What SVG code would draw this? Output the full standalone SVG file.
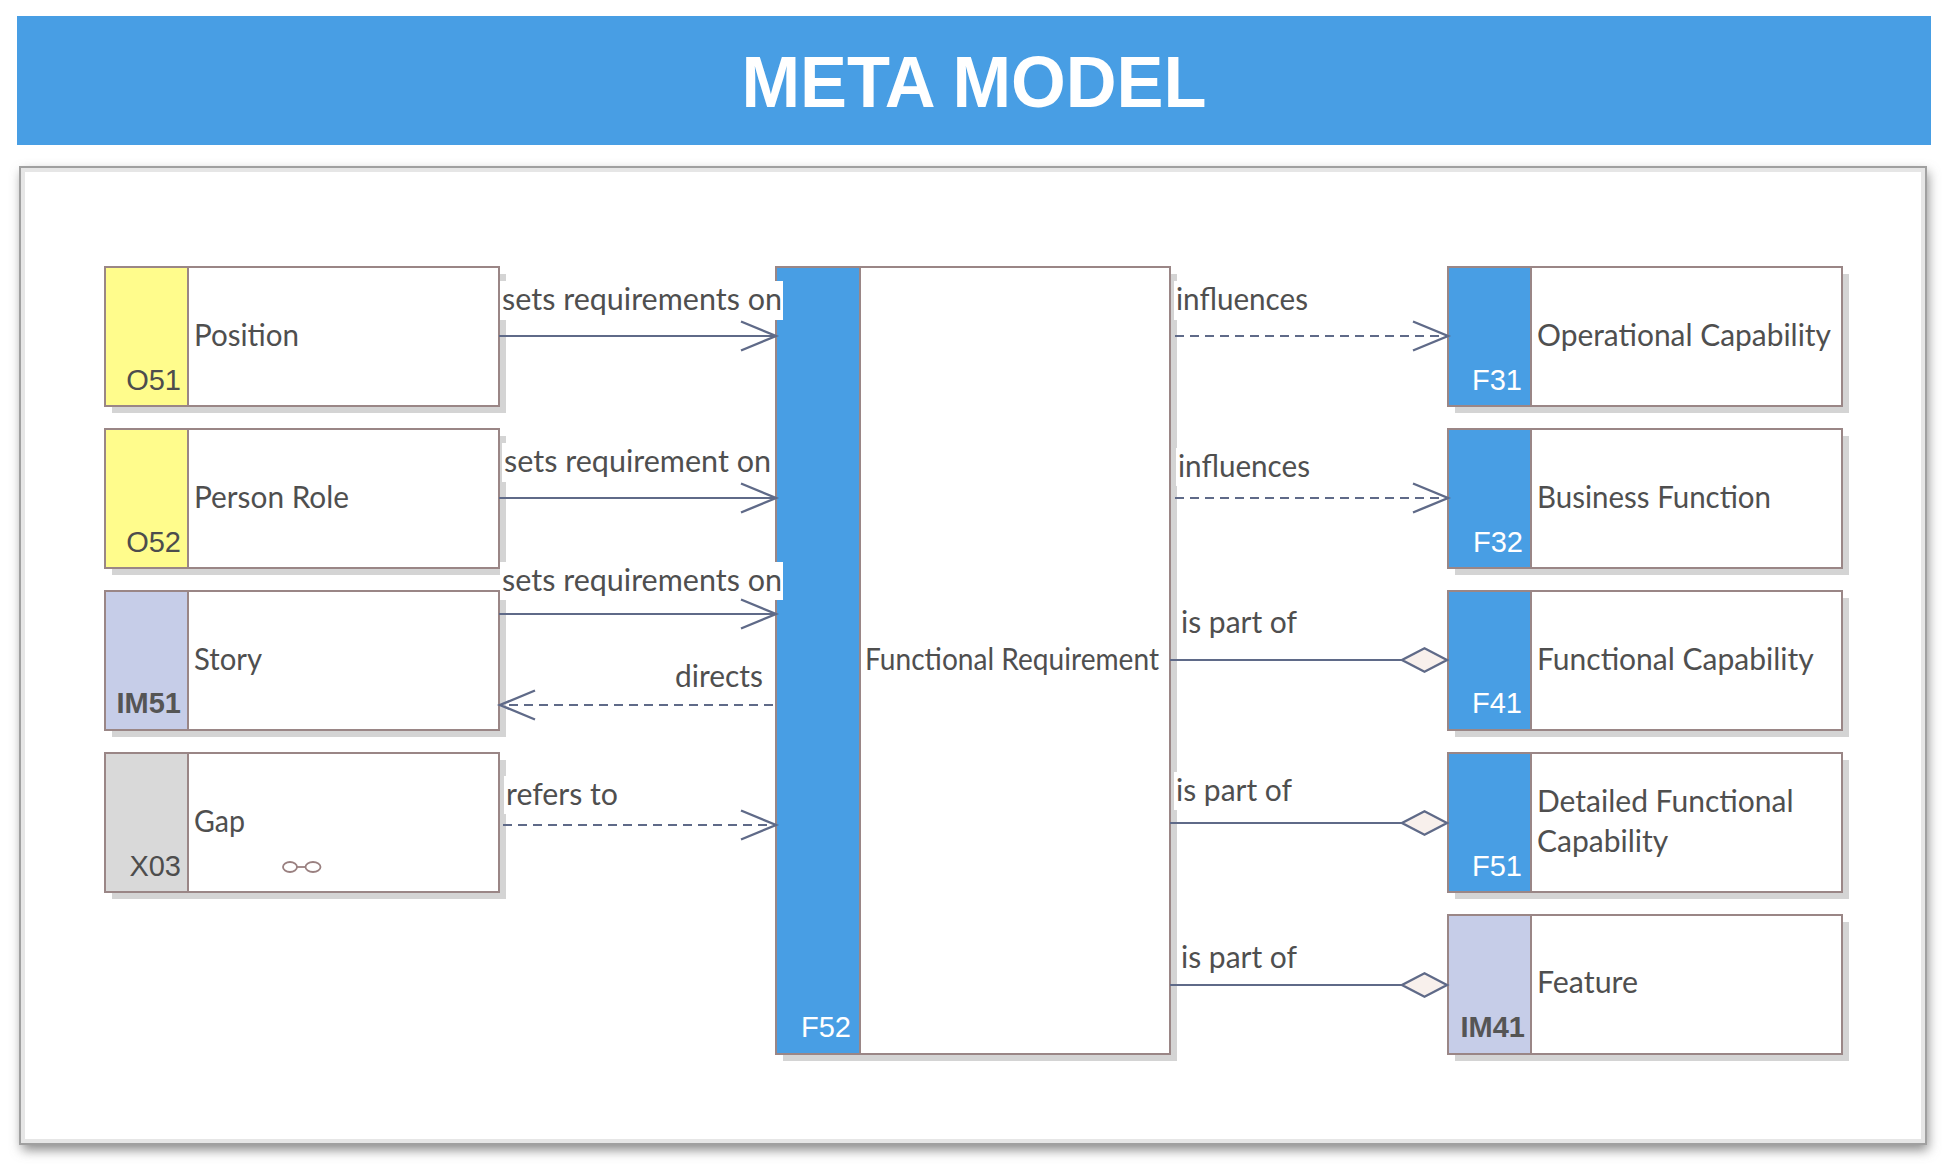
<svg xmlns="http://www.w3.org/2000/svg" width="1946" height="1164" viewBox="0 0 1946 1164">
<style>
.shadow{fill:#d4d4d4}
.box{fill:#ffffff;stroke:#9a8686;stroke-width:2}
.tab{stroke:none}
.tline{stroke:#9a8686;stroke-width:2}
.name{font-family:Lato,"Open Sans",sans-serif;font-size:30px;fill:#4f4f4f}
.code{font-family:"Liberation Sans",Arial,sans-serif;font-size:29px;text-anchor:end}
.lbl{font-family:Lato,"Open Sans",sans-serif;font-size:30px;fill:#4f4f4f}
.lbg{fill:#ffffff}
.conn{fill:none;stroke:#5f6a88;stroke-width:2.2}
.dash{stroke-dasharray:9 6}
</style>
<defs>
<filter id="pshadow" x="-5%" y="-5%" width="110%" height="112%">
<feGaussianBlur stdDeviation="6"/>
</filter>
<marker id="open" viewBox="-40 -20 44 40" markerWidth="44" markerHeight="40" refX="0" refY="0" orient="auto" markerUnits="userSpaceOnUse">
<path d="M -35 -14.5 L 0 0 L -35 14.5" fill="none" stroke="#5f6a88" stroke-width="2.4"/>
</marker>
<marker id="diamond" viewBox="-50 -16 54 32" markerWidth="54" markerHeight="32" refX="0" refY="0" orient="auto" markerUnits="userSpaceOnUse">
<path d="M 0 0 L -22.5 -11.7 L -45 0 L -22.5 11.7 Z" fill="#f8f0ec" stroke="#5f6a88" stroke-width="2.4"/>
</marker>
</defs>

<rect width="1946" height="1164" fill="#ffffff"/>

<g id="title">
<rect x="17" y="16" width="1914" height="129" fill="#489ee4"/>
<text x="974" y="107" text-anchor="middle" font-family="'Liberation Sans',Arial,sans-serif" font-weight="bold" font-size="73" fill="#ffffff" textLength="465" lengthAdjust="spacingAndGlyphs">META MODEL</text>
</g>

<g id="panel">
<rect x="22" y="172" width="1906" height="978" fill="#8a8a8a" filter="url(#pshadow)"/>
<rect x="20" y="167" width="1906" height="977" fill="#ffffff" stroke="#a0a0a0" stroke-width="2"/>
<rect x="23" y="170" width="1900" height="971" fill="none" stroke="#e6e6e6" stroke-width="4"/>
</g>

<g id="node-O51">
<rect class="shadow" x="112" y="274" width="394" height="139"/>
<rect class="box" x="105" y="267" width="394" height="139"/>
<rect class="tab" x="106" y="268" width="82" height="137" fill="#fffc8c"/>
<line class="tline" x1="188" y1="267" x2="188" y2="406"/>
<text class="name" x="194" y="346" textLength="105" lengthAdjust="spacingAndGlyphs">Position</text>
<text class="code" x="181" y="390" fill="#4d4d4d">O51</text>
</g>

<g id="node-O52">
<rect class="shadow" x="112" y="436" width="394" height="139"/>
<rect class="box" x="105" y="429" width="394" height="139"/>
<rect class="tab" x="106" y="430" width="82" height="137" fill="#fffc8c"/>
<line class="tline" x1="188" y1="429" x2="188" y2="568"/>
<text class="name" x="194" y="508" textLength="155" lengthAdjust="spacingAndGlyphs">Person Role</text>
<text class="code" x="181" y="552" fill="#4d4d4d">O52</text>
</g>

<g id="node-IM51">
<rect class="shadow" x="112" y="598" width="394" height="139"/>
<rect class="box" x="105" y="591" width="394" height="139"/>
<rect class="tab" x="106" y="592" width="82" height="137" fill="#c6cde8"/>
<line class="tline" x1="188" y1="591" x2="188" y2="730"/>
<text class="name" x="194" y="670" textLength="68" lengthAdjust="spacingAndGlyphs">Story</text>
<text class="code" x="181" y="713" fill="#555555" font-weight="bold">IM51</text>
</g>

<g id="node-X03">
<rect class="shadow" x="112" y="760" width="394" height="139"/>
<rect class="box" x="105" y="753" width="394" height="139"/>
<rect class="tab" x="106" y="754" width="82" height="137" fill="#d9d9d9"/>
<line class="tline" x1="188" y1="753" x2="188" y2="892"/>
<text class="name" x="194" y="832" textLength="51" lengthAdjust="spacingAndGlyphs">Gap</text>
<text class="code" x="181" y="876" fill="#4d4d4d">X03</text>
<ellipse cx="290" cy="867" rx="7" ry="5" fill="none" stroke="#9a8080" stroke-width="1.8"/>
<ellipse cx="313" cy="867" rx="7.5" ry="5" fill="none" stroke="#9a8080" stroke-width="1.8"/>
<line x1="297" y1="867" x2="305.5" y2="867" stroke="#9a8080" stroke-width="1.8"/>
</g>

<g id="node-F52">
<rect class="shadow" x="783" y="274" width="394" height="787"/>
<rect class="box" x="776" y="267" width="394" height="787"/>
<rect class="tab" x="777" y="268" width="83" height="785" fill="#489ee4"/>
<line class="tline" x1="860" y1="267" x2="860" y2="1054"/>
<text class="name" x="865" y="670" textLength="294" lengthAdjust="spacingAndGlyphs">Functional Requirement</text>
<text class="code" x="851" y="1037" fill="#ffffff">F52</text>
</g>

<g id="node-F31">
<rect class="shadow" x="1455" y="274" width="394" height="139"/>
<rect class="box" x="1448" y="267" width="394" height="139"/>
<rect class="tab" x="1449" y="268" width="82" height="137" fill="#489ee4"/>
<line class="tline" x1="1531" y1="267" x2="1531" y2="406"/>
<text class="name" x="1537" y="346" textLength="294" lengthAdjust="spacingAndGlyphs">Operational Capability</text>
<text class="code" x="1522" y="390" fill="#ffffff">F31</text>
</g>

<g id="node-F32">
<rect class="shadow" x="1455" y="436" width="394" height="139"/>
<rect class="box" x="1448" y="429" width="394" height="139"/>
<rect class="tab" x="1449" y="430" width="82" height="137" fill="#489ee4"/>
<line class="tline" x1="1531" y1="429" x2="1531" y2="568"/>
<text class="name" x="1537" y="508" textLength="234" lengthAdjust="spacingAndGlyphs">Business Function</text>
<text class="code" x="1523" y="552" fill="#ffffff">F32</text>
</g>

<g id="node-F41">
<rect class="shadow" x="1455" y="598" width="394" height="139"/>
<rect class="box" x="1448" y="591" width="394" height="139"/>
<rect class="tab" x="1449" y="592" width="82" height="137" fill="#489ee4"/>
<line class="tline" x1="1531" y1="591" x2="1531" y2="730"/>
<text class="name" x="1537" y="670">Functional Capability</text>
<text class="code" x="1522" y="713" fill="#ffffff">F41</text>
</g>

<g id="node-F51">
<rect class="shadow" x="1455" y="760" width="394" height="139"/>
<rect class="box" x="1448" y="753" width="394" height="139"/>
<rect class="tab" x="1449" y="754" width="82" height="137" fill="#489ee4"/>
<line class="tline" x1="1531" y1="753" x2="1531" y2="892"/>
<text class="name" x="1537" y="812">Detailed Functional</text>
<text class="name" x="1537" y="852">Capability</text>
<text class="code" x="1522" y="876" fill="#ffffff">F51</text>
</g>

<g id="node-IM41">
<rect class="shadow" x="1455" y="922" width="394" height="139"/>
<rect class="box" x="1448" y="915" width="394" height="139"/>
<rect class="tab" x="1449" y="916" width="82" height="137" fill="#c6cde8"/>
<line class="tline" x1="1531" y1="915" x2="1531" y2="1054"/>
<text class="name" x="1537" y="993" textLength="101" lengthAdjust="spacingAndGlyphs">Feature</text>
<text class="code" x="1525" y="1037" fill="#555555" font-weight="bold">IM41</text>
</g>

<g id="connectors">
<rect class="lbg" x="500" y="281" width="283" height="39"/>
<text class="lbl" x="502" y="310" textLength="280" lengthAdjust="spacingAndGlyphs">sets requirements on</text>
<line class="conn" x1="499" y1="336" x2="776" y2="336" marker-end="url(#open)"/>

<rect class="lbg" x="502" y="443" width="270" height="39"/>
<text class="lbl" x="504" y="472" textLength="267" lengthAdjust="spacingAndGlyphs">sets requirement on</text>
<line class="conn" x1="499" y1="498" x2="776" y2="498" marker-end="url(#open)"/>

<rect class="lbg" x="500" y="562" width="283" height="38"/>
<text class="lbl" x="502" y="591" textLength="280" lengthAdjust="spacingAndGlyphs">sets requirements on</text>
<line class="conn" x1="499" y1="614" x2="776" y2="614" marker-end="url(#open)"/>

<text class="lbl" x="675" y="687" textLength="88" lengthAdjust="spacingAndGlyphs">directs</text>
<line class="conn dash" x1="773" y1="705" x2="500" y2="705" marker-end="url(#open)"/>

<rect class="lbg" x="504" y="776" width="118" height="38"/>
<text class="lbl" x="506" y="805" textLength="112" lengthAdjust="spacingAndGlyphs">refers to</text>
<line class="conn dash" x1="503" y1="825" x2="776" y2="825" marker-end="url(#open)"/>

<rect class="lbg" x="1174" y="281" width="137" height="39"/>
<text class="lbl" x="1176" y="310" textLength="132" lengthAdjust="spacingAndGlyphs">influences</text>
<line class="conn dash" x1="1175" y1="336" x2="1448" y2="336" marker-end="url(#open)"/>

<rect class="lbg" x="1176" y="448" width="137" height="38"/>
<text class="lbl" x="1178" y="477" textLength="132" lengthAdjust="spacingAndGlyphs">influences</text>
<line class="conn dash" x1="1175" y1="498" x2="1448" y2="498" marker-end="url(#open)"/>

<text class="lbl" x="1181" y="633" textLength="116" lengthAdjust="spacingAndGlyphs">is part of</text>
<line class="conn" x1="1170" y1="660" x2="1447" y2="660" marker-end="url(#diamond)"/>

<rect class="lbg" x="1174" y="772" width="121" height="38"/>
<text class="lbl" x="1176" y="801" textLength="116" lengthAdjust="spacingAndGlyphs">is part of</text>
<line class="conn" x1="1170" y1="823" x2="1447" y2="823" marker-end="url(#diamond)"/>

<text class="lbl" x="1181" y="968" textLength="116" lengthAdjust="spacingAndGlyphs">is part of</text>
<line class="conn" x1="1170" y1="985" x2="1447" y2="985" marker-end="url(#diamond)"/>
</g>
</svg>
